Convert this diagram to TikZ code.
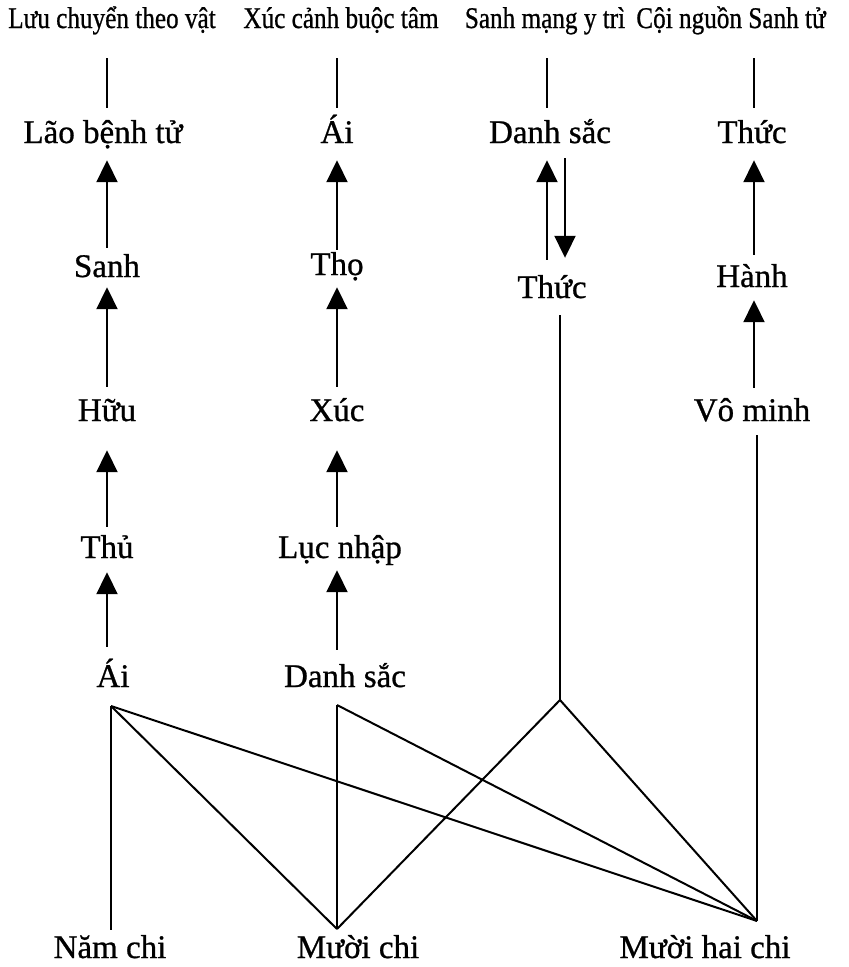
\documentclass[tikz,border=0pt]{standalone}
\usepackage{fontspec}
\setmainfont{Liberation Serif}
\newfontfamily\scanfont[FakeBold=0.8]{Liberation Serif}
\usetikzlibrary{arrows.meta}
\newcommand{\narrowtxt}[1]{\scalebox{0.84}[1]{#1}}
\begin{document}
\begin{tikzpicture}[x=1pt,y=-1pt,
  lbl/.style={font=\scanfont\fontsize{33}{36}\selectfont, inner sep=0pt, anchor=base, text height=24pt, text depth=8pt},
  hdr/.style={font=\scanfont\fontsize{30}{32}\selectfont, inner sep=0pt, anchor=base, text height=22pt, text depth=8pt},
  ln/.style={line width=2pt},
  arr/.style={line width=2pt, -{Triangle[length=22pt,width=21pt]}}]
\useasboundingbox[fill=white] (0,0) rectangle (849,967);
% column guides
\coordinate (c1) at (107,0);
\coordinate (c2) at (337,0);
\coordinate (c3) at (547,0);
\coordinate (c3b) at (565,0);
\coordinate (c4) at (754,0);
% headers
\node[hdr] (h1) at (112,28) {\narrowtxt{Lưu chuyển theo vật}};
\node[hdr] (h2) at (341,28) {\narrowtxt{Xúc cảnh buộc tâm}};
\node[hdr] (h3) at (545,28) {\narrowtxt{Sanh mạng y trì}};
\node[hdr] (h4) at (731,28) {\narrowtxt{Cội nguồn Sanh tử}};
% column 1
\node[lbl] (lao) at (103,143) {Lão bệnh tử};
\node[lbl] (sanh) at (107,277) {Sanh};
\node[lbl] (huu) at (107,421) {Hữu};
\node[lbl] (thu) at (107,558) {Thủ};
\node[lbl] (ai1) at (113,687) {Ái};
% column 2
\node[lbl] (ai2) at (337,143) {Ái};
\node[lbl] (tho) at (337,275) {Thọ};
\node[lbl] (xuc) at (337,421) {Xúc};
\node[lbl] (lucnhap) at (340,558) {Lục nhập};
\node[lbl] (ds2) at (345,687) {Danh sắc};
% column 3
\node[lbl] (ds3) at (550,143) {Danh sắc};
\node[lbl] (thuc3) at (552,298) {Thức};
% column 4
\node[lbl] (thuc4) at (752,143) {Thức};
\node[lbl] (hanh) at (752,287) {Hành};
\node[lbl] (vominh) at (752,421) {Vô minh};
% bottom
\node[lbl] (nam) at (110,958) {Năm chi};
\node[lbl] (muoi) at (358,958) {Mười chi};
\node[lbl] (muoihai) at (705,958) {Mười hai chi};
% junctions
\coordinate (A) at (111,706);
\coordinate (D) at (337,705);
\coordinate (T) at (560,700);
\coordinate (M) at (337,929);
\coordinate (H) at (757,921);
% header lines
\draw[ln, shorten <=22pt, shorten >=11pt] (h1.south -| c1) -- (lao.north -| c1);
\draw[ln, shorten <=22pt, shorten >=11pt] (h2.south -| c2) -- (ai2.north -| c2);
\draw[ln, shorten <=22pt, shorten >=11pt] (h3.south -| c3) -- (ds3.north -| c3);
\draw[ln, shorten <=22pt, shorten >=11pt] (h4.south -| c4) -- (thuc4.north -| c4);
% column 1 arrows
\draw[arr, shorten <=5pt, shorten >=9pt] (sanh.north -| c1) -- (lao.south -| c1);
\draw[arr, shorten <=10pt, shorten >=2pt] (huu.north -| c1) -- (sanh.south -| c1);
\draw[arr, shorten <=7pt, shorten >=21pt] (thu.north -| c1) -- (huu.south -| c1);
\draw[arr, shorten <=16pt, shorten >=6pt] (ai1.north -| c1) -- (thu.south -| c1);
% column 2 arrows
\draw[arr, shorten <=1pt, shorten >=9pt] (tho.north -| c2) -- (ai2.south -| c2);
\draw[arr, shorten <=10pt, shorten >=4pt] (xuc.north -| c2) -- (tho.south -| c2);
\draw[arr, shorten <=7pt, shorten >=21pt] (lucnhap.north -| c2) -- (xuc.south -| c2);
\draw[arr, shorten <=13pt, shorten >=4pt] (ds2.north -| c2) -- (lucnhap.south -| c2);
% column 3 arrows
\draw[arr, shorten <=14pt, shorten >=9pt] (thuc3.north -| c3) -- (ds3.south -| c3);
\draw[arr, shorten <=7pt, shorten >=16pt] (ds3.south -| c3b) -- (thuc3.north -| c3b);
% column 4 arrows
\draw[arr, shorten <=8pt, shorten >=9pt] (hanh.north -| c4) -- (thuc4.south -| c4);
\draw[arr, shorten <=9pt, shorten >=5pt] (vominh.north -| c4) -- (hanh.south -| c4);
% lower network
\draw[ln, shorten <=9pt] (thuc3.south -| T) -- (T);
\draw[ln, shorten <=6pt] (vominh.south -| H) -- (H);
\draw[ln, shorten >=4pt] (A) -- (nam.north -| A);
\draw[ln] (A) -- (M);
\draw[ln] (A) -- (H);
\draw[ln] (D) -- (M);
\draw[ln] (D) -- (H);
\draw[ln] (T) -- (M);
\draw[ln] (T) -- (H);
\end{tikzpicture}
\end{document}
